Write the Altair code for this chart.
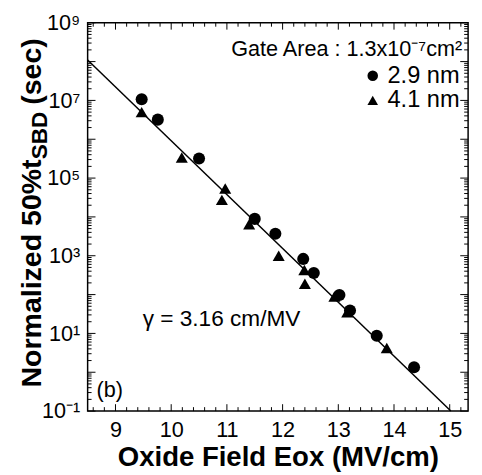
import altair as alt
import pandas as pd

# ---- data ----
circle_field = [9.47, 9.76, 10.50, 11.50, 11.87, 12.37, 12.56, 13.02, 13.21, 13.69, 14.36]
circle_time = [1.07e7, 3.2e6, 3.2e5, 8.9e3, 3.7e3, 830, 360, 98, 39, 8.7, 1.35]
tri_field = [9.47, 10.19, 10.91, 10.97, 11.40, 11.93, 12.39, 12.40, 12.93, 13.16, 13.87]
tri_time = [5.0e6, 3.4e5, 2.75e4, 5.4e4, 6.5e3, 1.0e3, 430, 190, 89, 35, 4.2]
fit_field = [8.5, 15.02]
fit_time = [1.1e8, 0.1]
series_names = ["2.9 nm", "4.1 nm"]
x_tick_labels = [9, 10, 11, 12, 13, 14, 15]
y_label_exps = [-1, 1, 3, 5, 7, 9]

FONT = "Liberation Sans"
W, H = 387, 395

df = pd.DataFrame({
    "field": circle_field + tri_field,
    "time": circle_time + tri_time,
    "series": [series_names[0]] * len(circle_field) + [series_names[1]] * len(tri_field),
})
fit_df = pd.DataFrame({"field": fit_field, "time": fit_time})

xscale = alt.Scale(domain=[8.5, 15.33], nice=False, zero=False)
yscale = alt.Scale(type="log", domain=[0.1, 1e9], nice=False)

sup = {-1: "⁻¹", 1: "¹", 3: "³", 5: "⁵", 7: "⁷", 9: "⁹"}
expr = "''"
for e in reversed(y_label_exps):
    expr = f"(datum.value < {10.0 ** e * 1.5}) ? '10{sup[e]}' : ({expr})"

xaxis = alt.Axis(values=x_tick_labels, format="d", ticks=False, domain=False, grid=False,
                 labelFontSize=22, labelFont=FONT, labelColor="black", labelPadding=9,
                 title="Oxide Field Eox (MV/cm)", titleFont=FONT, titleFontSize=28,
                 titleFontWeight="bold", titleColor="black", titlePadding=3)
yaxis = alt.Axis(values=[10.0 ** e for e in y_label_exps], labelExpr=expr, ticks=False,
                 domain=False, grid=False, labelFontSize=22, labelFont=FONT,
                 labelColor="black", labelPadding=8, title=None)

points = alt.Chart(df).mark_point(filled=True, opacity=1, color="black", size=150).encode(
    x=alt.X("field:Q", scale=xscale, axis=xaxis),
    y=alt.Y("time:Q", scale=yscale, axis=yaxis),
    shape=alt.Shape("series:N",
                    scale=alt.Scale(domain=series_names, range=["circle", "triangle-up"]),
                    legend=alt.Legend(title=None, orient="none", legendX=278, legendY=42,
                                      labelFontSize=24, labelFont=FONT, labelColor="black",
                                      symbolSize=115, symbolFillColor="black",
                                      symbolStrokeColor="black", symbolStrokeWidth=0,
                                      labelOffset=3, rowPadding=1, padding=0)),
)

fit = alt.Chart(fit_df).mark_line(color="black", strokeWidth=1.5).encode(
    x=alt.X("field:Q", scale=xscale),
    y=alt.Y("time:Q", scale=yscale),
)

# ---- inward ticks on all four sides ----
y_major = [10.0 ** k for k in range(-1, 10)]
y_minor = [m * 10.0 ** k for k in range(-1, 9) for m in range(2, 10)]
x_major = [float(v) for v in x_tick_labels]
x_minor = [round(8.6 + 0.2 * i, 2) for i in range(34)
           if abs((8.6 + 0.2 * i) - round(8.6 + 0.2 * i)) > 1e-6]


def yticks(vals, length, right):
    d = pd.DataFrame({"v": vals})
    if right:
        xe = dict(x=alt.value(W - length), x2=alt.value(W))
    else:
        xe = dict(x=alt.value(0), x2=alt.value(length))
    return alt.Chart(d).mark_rule(color="black", strokeWidth=1).encode(
        y=alt.Y("v:Q", scale=yscale), **xe)


def xticks(vals, length, top):
    d = pd.DataFrame({"v": vals})
    if top:
        ye = dict(y=alt.value(0), y2=alt.value(length))
    else:
        ye = dict(y=alt.value(H - length), y2=alt.value(H))
    return alt.Chart(d).mark_rule(color="black", strokeWidth=1).encode(
        x=alt.X("v:Q", scale=xscale), **ye)


ticks = [
    yticks(y_major, 8, False), yticks(y_minor, 4, False),
    yticks(y_major, 8, True), yticks(y_minor, 4, True),
    xticks(x_major, 7, False), xticks(x_minor, 4, False),
    xticks(x_major, 7, True), xticks(x_minor, 4, True),
]


def label(text, x, y, size=22, weight="normal", angle=0, align="left"):
    d = pd.DataFrame({"t": [text]})
    return alt.Chart(d).mark_text(font=FONT, fontSize=size, fontWeight=weight, color="black",
                                  align=align, baseline="alphabetic", angle=angle).encode(
        x=alt.value(x), y=alt.value(y), text="t:N")


# y-axis title with subscript, composed of pieces (reads bottom to top)
MAIN, SUB, GAP = 29, 23, 7
bw = {"N": 722, "o": 611, "r": 389, "m": 889, "a": 556, "l": 278, "i": 278, "z": 500,
      "e": 556, "d": 611, " ": 278, "5": 556, "0": 556, "%": 889, "t": 333, "S": 667,
      "B": 722, "D": 722, "(": 333, "s": 556, "c": 556, ")": 333}


def width(s, size):
    return sum(bw[c] for c in s) * size / 1000.0


p1, p2, p3 = "Normalized 50%t", "SBD", "(sec)"
start = 371
texts = [
    label("Gate Area : 1.3x10⁻⁷cm²", 146, 34),
    label("γ = 3.16 cm/MV", 56, 308, size=23),
    label("(b)", 9, 381),
    label(p1, -47, start, size=MAIN, weight="bold", angle=270),
    label(p2, -41, start - width(p1, MAIN), size=SUB, weight="bold", angle=270),
    label(p3, -47, start - width(p1, MAIN) - width(p2, SUB) - GAP, size=MAIN,
          weight="bold", angle=270),
]

chart = alt.layer(*ticks, fit, points, *texts).properties(
    width=W, height=H,
    autosize=alt.AutoSizeParams(type="none"),
    padding={"left": 81, "top": 11, "right": 6, "bottom": 60},
).configure_view(stroke="black", strokeWidth=1.5)

chart.save("out.html", embed_options={"renderer": "svg", "actions": False})
